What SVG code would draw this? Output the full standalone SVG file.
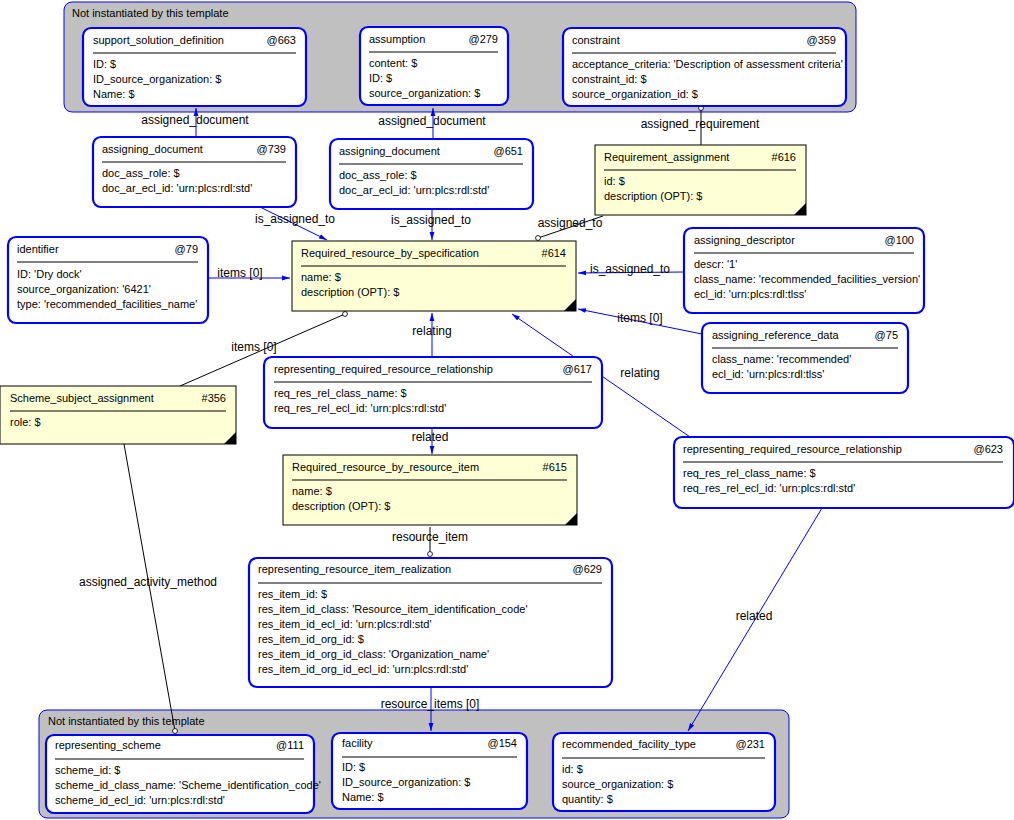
<svg xmlns="http://www.w3.org/2000/svg" width="1014" height="820" viewBox="0 0 1014 820">
<defs>
<marker id="arr" viewBox="0 0 10 10" refX="10" refY="5" markerWidth="8" markerHeight="8" orient="auto-start-reverse"><path d="M0,2 L10,5 L0,8 z" fill="#0000ff"/></marker>
<marker id="circ" viewBox="0 0 10 10" refX="5" refY="5" markerWidth="7" markerHeight="7"><circle cx="5" cy="5" r="3.5" fill="#fff" stroke="#000" stroke-width="1.2"/></marker>
<style>
text{font-family:"Liberation Sans",Arial,sans-serif;font-size:11px;fill:#000}
.n{fill:#fff;stroke:#0000ff;stroke-width:2.2}
.y{fill:#ffffd6;stroke:#000;stroke-width:1}
.g{fill:#c0c0c0;stroke:#0000ff;stroke-width:1}
.hl{stroke:#000;stroke-width:1}
.b{stroke:#0000ff;stroke-width:1;fill:none}
.k{stroke:#000;stroke-width:1;fill:none}
.lbl{font-size:12px;text-anchor:middle}
.r{text-anchor:end}
</style>
</defs>
<g id="grp_top"><rect class="g" x="64" y="2" width="792" height="110" rx="8"/><text x="72" y="17">Not instantiated by this template</text></g>
<g id="grp_bottom"><rect class="g" x="39" y="710" width="750" height="108" rx="8"/><text x="48" y="725">Not instantiated by this template</text></g>

<g id="connectors">
<line class="b" x1="196" y1="137" x2="196" y2="108" marker-end="url(#arr)"/>
<line class="b" x1="433" y1="139" x2="433" y2="108" marker-end="url(#arr)"/>
<line class="k" x1="701" y1="145" x2="701" y2="108" marker-end="url(#circ)"/>
<line class="b" x1="260" y1="207" x2="327" y2="240" marker-end="url(#arr)"/>
<line class="b" x1="432" y1="209" x2="432" y2="240" marker-end="url(#arr)"/>
<line class="k" x1="603" y1="216" x2="538" y2="238" marker-end="url(#circ)"/>
<line class="b" x1="208" y1="278" x2="290" y2="278" marker-end="url(#arr)"/>
<line class="b" x1="684" y1="272" x2="578" y2="273" marker-end="url(#arr)"/>
<line class="b" x1="702" y1="334" x2="578" y2="309" marker-end="url(#arr)"/>
<line class="b" x1="690" y1="437" x2="512" y2="314" marker-end="url(#arr)"/>
<line class="b" x1="432" y1="357" x2="432" y2="313" marker-end="url(#arr)"/>
<line class="k" x1="180" y1="386" x2="345" y2="314" marker-end="url(#circ)"/>
<line class="b" x1="432" y1="428" x2="432" y2="454" marker-end="url(#arr)"/>
<line class="k" x1="430" y1="527" x2="430" y2="554" marker-end="url(#circ)"/>
<line class="k" x1="124" y1="444" x2="175" y2="731" marker-end="url(#circ)"/>
<line class="b" x1="431" y1="687" x2="431" y2="731" marker-end="url(#arr)"/>
<line class="b" x1="822" y1="508" x2="688" y2="731" marker-end="url(#arr)"/>
<text class="lbl" x="195" y="124">assigned_document</text>
<text class="lbl" x="432" y="125">assigned_document</text>
<text class="lbl" x="700" y="128">assigned_requirement</text>
<text class="lbl" x="295" y="223">is_assigned_to</text>
<text class="lbl" x="431" y="224">is_assigned_to</text>
<text class="lbl" x="570" y="227">assigned_to</text>
<text class="lbl" x="240" y="277">items [0]</text>
<text class="lbl" x="630" y="273">is_assigned_to</text>
<text class="lbl" x="640" y="322">items [0]</text>
<text class="lbl" x="640" y="377">relating</text>
<text class="lbl" x="432" y="335">relating</text>
<text class="lbl" x="254" y="351">items [0]</text>
<text class="lbl" x="430" y="441">related</text>
<text class="lbl" x="430" y="541">resource_item</text>
<text class="lbl" x="148" y="586">assigned_activity_method</text>
<text class="lbl" x="430" y="708">resource_items [0]</text>
<text class="lbl" x="754" y="620">related</text>
</g>

<g id="n663"><rect class="n" x="83" y="28" width="223" height="78" rx="8"/><text x="93" y="44">support_solution_definition</text><text class="r" x="296" y="44">@663</text><line class="hl" x1="93" y1="53" x2="296" y2="53"/><text x="93" y="68">ID: $</text><text x="93" y="83">ID_source_organization: $</text><text x="93" y="98">Name: $</text></g>
<g id="n279"><rect class="n" x="360" y="27" width="148" height="78" rx="8"/><text x="369" y="43">assumption</text><text class="r" x="498" y="43">@279</text><line class="hl" x1="369" y1="52" x2="498" y2="52"/><text x="369" y="67">content: $</text><text x="369" y="82">ID: $</text><text x="369" y="97">source_organization: $</text></g>
<g id="n359"><rect class="n" x="563" y="28" width="283" height="78" rx="8"/><text x="572" y="44">constraint</text><text class="r" x="836" y="44">@359</text><line class="hl" x1="572" y1="53" x2="836" y2="53"/><text x="572" y="68">acceptance_criteria: 'Description of assessment criteria'</text><text x="572" y="83">constraint_id: $</text><text x="572" y="98">source_organization_id: $</text></g>
<g id="n739"><rect class="n" x="93" y="137" width="203" height="70" rx="8"/><text x="102" y="153">assigning_document</text><text class="r" x="286" y="153">@739</text><line class="hl" x1="102" y1="162" x2="286" y2="162"/><text x="102" y="177">doc_ass_role: $</text><text x="102" y="192">doc_ar_ecl_id: 'urn:plcs:rdl:std'</text></g>
<g id="n651"><rect class="n" x="330" y="139" width="203" height="70" rx="8"/><text x="339" y="155">assigning_document</text><text class="r" x="523" y="155">@651</text><line class="hl" x1="339" y1="164" x2="523" y2="164"/><text x="339" y="179">doc_ass_role: $</text><text x="339" y="194">doc_ar_ecl_id: 'urn:plcs:rdl:std'</text></g>
<g id="n616"><rect class="y" x="595" y="145" width="211" height="70"/><path d="M806,203 L806,215 L794,215 z"/><text x="604" y="161">Requirement_assignment</text><text class="r" x="796" y="161">#616</text><line class="hl" x1="604" y1="170" x2="796" y2="170"/><text x="604" y="185">id: $</text><text x="604" y="200">description (OPT): $</text></g>
<g id="n79"><rect class="n" x="8" y="237" width="200" height="86" rx="8"/><text x="17" y="253">identifier</text><text class="r" x="198" y="253">@79</text><line class="hl" x1="17" y1="262" x2="198" y2="262"/><text x="17" y="278">ID: 'Dry dock'</text><text x="17" y="293">source_organization: '6421'</text><text x="17" y="308">type: 'recommended_facilities_name'</text></g>
<g id="n614"><rect class="y" x="292" y="241" width="284" height="70"/><path d="M576,299 L576,311 L564,311 z"/><text x="301" y="257">Required_resource_by_specification</text><text class="r" x="566" y="257">#614</text><line class="hl" x1="301" y1="266" x2="566" y2="266"/><text x="301" y="281">name: $</text><text x="301" y="296">description (OPT): $</text></g>
<g id="n100"><rect class="n" x="684" y="228" width="240" height="85" rx="8"/><text x="694" y="244">assigning_descriptor</text><text class="r" x="914" y="244">@100</text><line class="hl" x1="694" y1="253" x2="914" y2="253"/><text x="694" y="268">descr: '1'</text><text x="694" y="283">class_name: 'recommended_facilities_version'</text><text x="694" y="298">ecl_id: 'urn:plcs:rdl:tlss'</text></g>
<g id="n75"><rect class="n" x="702" y="323" width="206" height="70" rx="8"/><text x="712" y="339">assigning_reference_data</text><text class="r" x="898" y="339">@75</text><line class="hl" x1="712" y1="348" x2="898" y2="348"/><text x="712" y="363">class_name: 'recommended'</text><text x="712" y="378">ecl_id: 'urn:plcs:rdl:tlss'</text></g>
<g id="n356"><rect class="y" x="0" y="386" width="236" height="58"/><path d="M236,432 L236,444 L224,444 z"/><text x="10" y="402">Scheme_subject_assignment</text><text class="r" x="226" y="402">#356</text><line class="hl" x1="10" y1="411" x2="226" y2="411"/><text x="10" y="426">role: $</text></g>
<g id="n617"><rect class="n" x="264" y="357" width="338" height="71" rx="8"/><text x="274" y="373">representing_required_resource_relationship</text><text class="r" x="592" y="373">@617</text><line class="hl" x1="274" y1="382" x2="592" y2="382"/><text x="274" y="397">req_res_rel_class_name: $</text><text x="274" y="412">req_res_rel_ecl_id: 'urn:plcs:rdl:std'</text></g>
<g id="n615"><rect class="y" x="283" y="455" width="294" height="70"/><path d="M577,513 L577,525 L565,525 z"/><text x="292" y="471">Required_resource_by_resource_item</text><text class="r" x="567" y="471">#615</text><line class="hl" x1="292" y1="480" x2="567" y2="480"/><text x="292" y="495">name: $</text><text x="292" y="510">description (OPT): $</text></g>
<g id="n623"><rect class="n" x="674" y="437" width="340" height="71" rx="8"/><text x="683" y="453">representing_required_resource_relationship</text><text class="r" x="1003" y="453">@623</text><line class="hl" x1="683" y1="462" x2="1003" y2="462"/><text x="683" y="477">req_res_rel_class_name: $</text><text x="683" y="492">req_res_rel_ecl_id: 'urn:plcs:rdl:std'</text></g>
<g id="n629"><rect class="n" x="249" y="558" width="363" height="129" rx="8"/><text x="258" y="573">representing_resource_item_realization</text><text class="r" x="602" y="573">@629</text><line class="hl" x1="258" y1="583" x2="602" y2="583"/><text x="258" y="598">res_item_id: $</text><text x="258" y="613">res_item_id_class: 'Resource_item_identification_code'</text><text x="258" y="628">res_item_id_ecl_id: 'urn:plcs:rdl:std'</text><text x="258" y="643">res_item_id_org_id: $</text><text x="258" y="658">res_item_id_org_id_class: 'Organization_name'</text><text x="258" y="673">res_item_id_org_id_ecl_id: 'urn:plcs:rdl:std'</text></g>
<g id="n111"><rect class="n" x="46" y="735" width="268" height="78" rx="8"/><text x="55" y="749">representing_scheme</text><text class="r" x="304" y="749">@111</text><line class="hl" x1="55" y1="759" x2="304" y2="759"/><text x="55" y="774">scheme_id: $</text><text x="55" y="789">scheme_id_class_name: 'Scheme_identification_code'</text><text x="55" y="804">scheme_id_ecl_id: 'urn:plcs:rdl:std'</text></g>
<g id="n154"><rect class="n" x="332" y="733" width="195" height="76" rx="8"/><text x="342" y="747">facility</text><text class="r" x="517" y="747">@154</text><line class="hl" x1="342" y1="757" x2="517" y2="757"/><text x="342" y="771">ID: $</text><text x="342" y="786">ID_source_organization: $</text><text x="342" y="801">Name: $</text></g>
<g id="n231"><rect class="n" x="553" y="733" width="222" height="78" rx="8"/><text x="562" y="748">recommended_facility_type</text><text class="r" x="765" y="748">@231</text><line class="hl" x1="562" y1="758" x2="765" y2="758"/><text x="562" y="773">id: $</text><text x="562" y="788">source_organization: $</text><text x="562" y="803">quantity: $</text></g>
</svg>
